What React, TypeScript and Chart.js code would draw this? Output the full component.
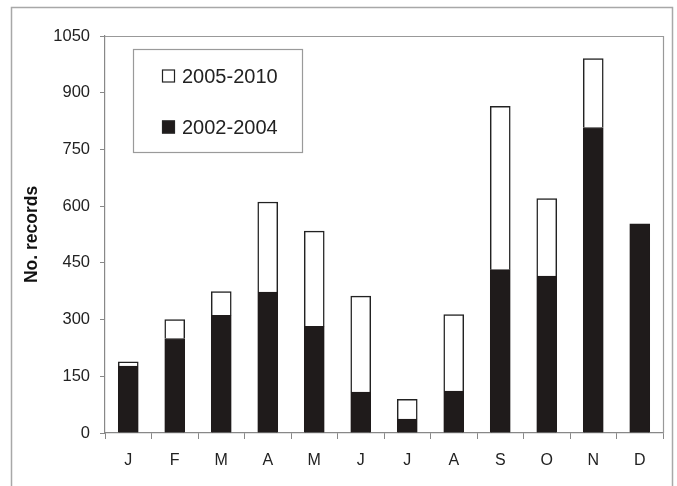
import React, { useEffect, useRef } from "react";
import { Chart, registerables } from "chart.js";

Chart.register(...registerables);

const months = ["J", "F", "M", "A", "M", "J", "J", "A", "S", "O", "N", "D"];
const series2002to2004 = [177, 250, 311, 373, 282, 108, 37, 111, 432, 415, 808, 553];
const series2005to2010 = [11, 50, 63, 238, 252, 254, 52, 202, 432, 205, 182, 0];
const legendLabels = ["2005-2010", "2002-2004"];
const yMax = 1050;
const yStep = 150;

const FONT = "'Liberation Sans', Arial, sans-serif";

const framePlugin = {
  id: "framePlugin",
  beforeDraw(chart: any) {
    const ctx = chart.ctx;
    ctx.save();
    ctx.fillStyle = "#ffffff";
    ctx.fillRect(0, 0, chart.width, chart.height);
    ctx.strokeStyle = "#a8a8a8";
    ctx.lineWidth = 1.5;
    ctx.strokeRect(11.5, 7.5, 661, 500);
    ctx.restore();
  },
  afterDraw(chart: any) {
    const ctx = chart.ctx;
    const a = chart.chartArea;
    ctx.save();
    ctx.strokeStyle = "#999999";
    ctx.lineWidth = 1.2;
    ctx.beginPath();
    ctx.moveTo(a.left, a.top + 0.5);
    ctx.lineTo(a.right + 0.5, a.top + 0.5);
    ctx.lineTo(a.right + 0.5, a.bottom);
    ctx.stroke();

    // legend box
    const bx = a.left + 28;
    const by = a.top + 13;
    const bw = 169;
    const bh = 103;
    ctx.fillStyle = "#ffffff";
    ctx.fillRect(bx, by, bw, bh);
    ctx.strokeStyle = "#9a9a9a";
    ctx.lineWidth = 1.2;
    ctx.strokeRect(bx + 0.5, by + 0.5, bw, bh);

    ctx.font = `20px ${FONT}`;
    ctx.textBaseline = "middle";
    ctx.textAlign = "left";
    const rows = [
      { label: legendLabels[0], fill: "#ffffff", y: by + 27 },
      { label: legendLabels[1], fill: "#1f1b1b", y: by + 78 },
    ];
    rows.forEach((r) => {
      ctx.fillStyle = r.fill;
      ctx.fillRect(bx + 29, r.y - 6.5, 13, 13);
      ctx.strokeStyle = "#222222";
      ctx.lineWidth = 1.2;
      ctx.strokeRect(bx + 29.5, r.y - 6, 12, 12);
      ctx.fillStyle = "#222222";
      ctx.fillText(r.label, bx + 49, r.y + 1);
    });
    ctx.restore();
  },
};

export default function App() {
  const ref = useRef<HTMLCanvasElement>(null);

  useEffect(() => {
    document.body.style.margin = "0";
    const canvas = ref.current;
    if (!canvas) return;
    const chart = new Chart(canvas, {
      type: "bar",
      data: {
        labels: months,
        datasets: [
          {
            label: legendLabels[1],
            data: series2002to2004,
            backgroundColor: "#1f1b1b",
            borderColor: "#1f1b1b",
            borderWidth: 1,
            barThickness: 20,
          },
          {
            label: legendLabels[0],
            data: series2005to2010,
            backgroundColor: "#ffffff",
            borderColor: "#222222",
            borderWidth: 1.5,
            barThickness: 20,
          },
        ],
      },
      options: {
        animation: false,
        responsive: false,
        maintainAspectRatio: false,
        devicePixelRatio: 1,
        layout: { padding: { top: 36, right: 14, left: 0, bottom: 0 } },
        plugins: {
          legend: { display: false },
          tooltip: { enabled: false },
        },
        scales: {
          x: {
            stacked: true,
            grid: {
              display: true,
              drawOnChartArea: false,
              drawTicks: true,
              tickLength: 6,
              color: "#888888",
              offset: true,
            },
            border: { display: true, color: "#888888", width: 1.2 },
            ticks: {
              color: "#222222",
              font: { family: FONT, size: 16 },
              padding: 12,
              maxRotation: 0,
              autoSkip: false,
            },
            afterFit(scale: any) {
              scale.height = 53;
            },
          },
          y: {
            stacked: true,
            min: 0,
            max: yMax,
            grid: {
              display: true,
              drawOnChartArea: false,
              drawTicks: true,
              tickLength: 5,
              color: "#888888",
            },
            border: { display: true, color: "#888888", width: 1.2 },
            ticks: {
              stepSize: yStep,
              color: "#222222",
              font: { family: FONT, size: 16.5 },
              padding: 10,
              callback: (v: any) => String(v),
            },
            title: {
              display: true,
              text: "No. records",
              color: "#111111",
              font: { family: FONT, size: 17.5, weight: "bold" },
              padding: { top: 22, bottom: 0 },
            },
            afterFit(scale: any) {
              scale.width = 105;
            },
          },
        },
      },
      plugins: [framePlugin],
    });
    return () => chart.destroy();
  }, []);

  return (
    <div style={{ width: 677, height: 486, position: "relative", background: "#fff" }}>
      <canvas ref={ref} width={677} height={486} style={{ display: "block", width: 677, height: 486 }} />
    </div>
  );
}
